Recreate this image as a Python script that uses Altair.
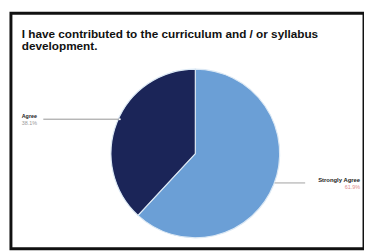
import altair as alt
import pandas as pd

categories = ["Strongly Agree", "Agree"]
values = [61.9, 38.1]
pct_labels = ["61.9%", "38.1%"]
colors = ["#6b9fd6", "#1b2558"]
title_lines = ["I have contributed to the curriculum and / or syllabus", "development."]

df = pd.DataFrame({"category": categories, "value": values, "pct": pct_labels, "idx": list(range(len(categories)))})

base = alt.Chart(df)

pie = base.mark_arc(radius=86, stroke="#dbe8f4", strokeWidth=1.2).encode(
    theta=alt.Theta("value:Q", stack=True),
    color=alt.Color("category:N", scale=alt.Scale(domain=categories, range=colors), legend=None),
    order=alt.Order("idx:O"),
    x=alt.value(188),
    y=alt.value(143),
)

title = base.transform_filter("datum.idx == 0").mark_text(
    align="left", baseline="alphabetic", fontSize=12, fontWeight="bold",
    font="Liberation Sans", color="#111111", lineHeight=12,
).encode(x=alt.value(11), y=alt.value(25), text=alt.value(title_lines))

# Agree label (left)
agree = base.transform_filter("datum.category == 'Agree'")
agree_name = agree.mark_text(align="left", baseline="alphabetic", fontSize=5.5, fontWeight="bold",
                             font="Liberation Sans", color="#222222").encode(
    x=alt.value(11), y=alt.value(107), text="category:N")
agree_pct = agree.mark_text(align="left", baseline="alphabetic", fontSize=5.5,
                            font="Liberation Sans", color="#999999").encode(
    x=alt.value(11), y=alt.value(114), text="pct:N")
agree_line = agree.mark_rule(color="#777777", strokeWidth=0.8).encode(
    x=alt.value(33), x2=alt.value(111), y=alt.value(108))
agree_dot = agree.mark_circle(color="#ffffff", size=4, opacity=1).encode(
    x=alt.value(111), y=alt.value(108))

# Strongly Agree label (right)
sa = base.transform_filter("datum.category == 'Strongly Agree'")
sa_name = sa.mark_text(align="right", baseline="alphabetic", fontSize=6, fontWeight="bold",
                       font="Liberation Sans", color="#222222").encode(
    x=alt.value(356), y=alt.value(172), text="category:N")
sa_pct = sa.mark_text(align="right", baseline="alphabetic", fontSize=5.5,
                      font="Liberation Sans", color="#e08a8a").encode(
    x=alt.value(356), y=alt.value(179), text="pct:N")
sa_line = sa.mark_rule(color="#888888", strokeWidth=0.8).encode(
    x=alt.value(269), x2=alt.value(300), y=alt.value(173))

chart = alt.layer(pie, title, agree_line, agree_dot, agree_name, agree_pct, sa_line, sa_name, sa_pct).properties(
    width=360, height=240,
    autosize=alt.AutoSizeParams(type="none"),
    padding={"left": 3, "top": 3, "right": 0, "bottom": 0},
    background="white",
).configure_view(stroke="#111111", strokeWidth=3)

chart.save("out.html", embed_options={"renderer": "svg", "actions": False})
